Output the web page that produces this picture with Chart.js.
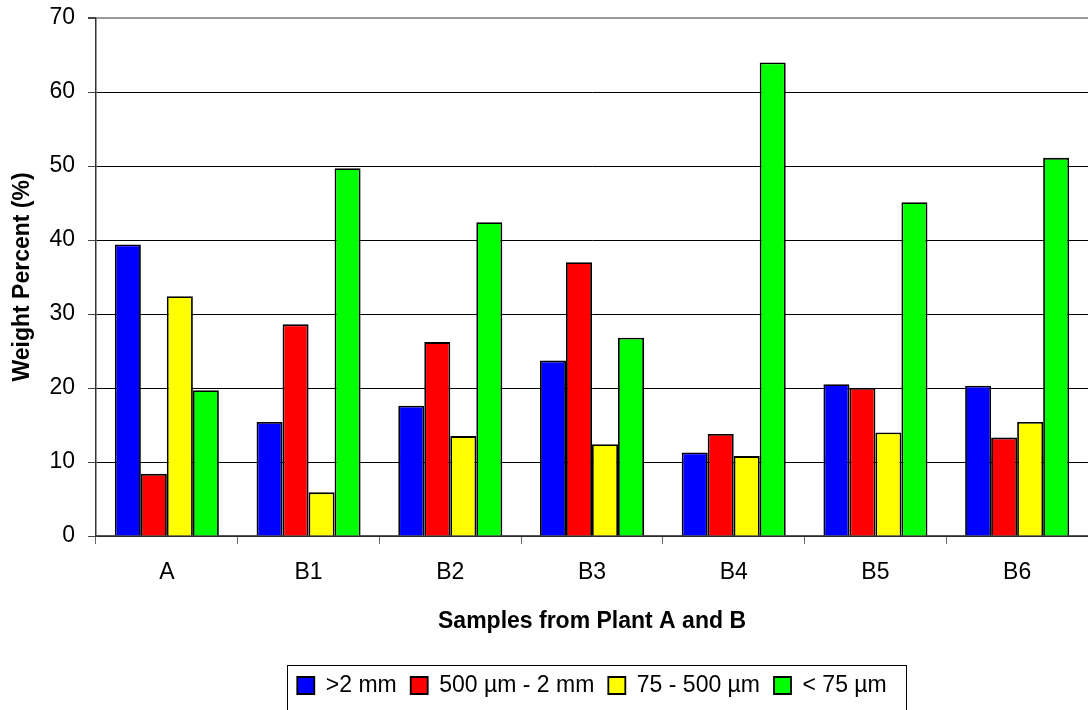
<!DOCTYPE html>
<html>
<head>
<meta charset="utf-8">
<script src="https://cdn.jsdelivr.net/npm/chart.js@4"></script>
<style>
  html, body { margin: 0; padding: 0; background: #fff; }
  #wrap { width: 1088px; height: 710px; }
</style>
</head>
<body>
<div id="wrap"><canvas id="chart" width="1088" height="710"></canvas></div>
<script>
const samples = ["A", "B1", "B2", "B3", "B4", "B5", "B6"];
const over2mm = [39.4, 15.4, 17.6, 23.7, 11.3, 20.5, 20.3];
const from500umTo2mm = [8.4, 28.6, 26.2, 37.0, 13.8, 20.0, 13.3];
const from75To500um = [32.4, 5.9, 13.5, 12.4, 10.8, 14.0, 15.4];
const under75um = [19.7, 49.7, 42.4, 26.8, 64.0, 45.1, 51.1];
const seriesNames = [">2 mm", "500 µm - 2 mm", "75 - 500 µm", "< 75 µm"];
const yTicks = [0, 10, 20, 30, 40, 50, 60, 70];

const FONT = 'Arial, "Liberation Sans", sans-serif';

function series(label, data, color) {
  return {
    label,
    data,
    backgroundColor: color,
    borderColor: "#000",
    borderWidth: 1.8,
    categoryPercentage: 0.734,
    barPercentage: 1.0
  };
}

// box round the legend, like the spreadsheet one
const legendFrame = {
  id: "legendFrame",
  afterDraw(chart) {
    const boxes = chart.legend && chart.legend.legendHitBoxes;
    if (!boxes || !boxes.length) return;
    let left = Infinity, right = -Infinity, mid = 0;
    boxes.forEach(b => {
      left = Math.min(left, b.left);
      right = Math.max(right, b.left + b.width);
      mid = b.top + b.height / 2;
    });
    const ctx = chart.ctx;
    ctx.save();
    ctx.strokeStyle = "#000";
    ctx.lineWidth = 1;
    ctx.strokeRect(Math.round(left - 10) + 0.5, Math.round(mid - 21) + 0.5,
      Math.round(right - left + 30), 60);
    ctx.restore();
  }
};

Chart.defaults.font.family = FONT;
Chart.defaults.color = "#000";

new Chart(document.getElementById("chart"), {
  type: "bar",
  data: {
    labels: samples,
    datasets: [
      series(seriesNames[0], over2mm, "#0000ff"),
      series(seriesNames[1], from500umTo2mm, "#ff0000"),
      series(seriesNames[2], from75To500um, "#ffff00"),
      series(seriesNames[3], under75um, "#00ff00")
    ]
  },
  options: {
    responsive: false,
    animation: false,
    layout: { padding: { top: 18, right: 0, bottom: 3, left: 0 } },
    plugins: {
      tooltip: { enabled: false },
      legend: {
        position: "bottom",
        fullSize: false,
        labels: {
          boxWidth: 17,
          boxHeight: 17,
          padding: 14,
          color: "#000",
          font: { size: 23, family: FONT }
        }
      }
    },
    scales: {
      x: {
        offset: true,
        grid: {
          display: true,
          offset: true,
          drawOnChartArea: false,
          tickLength: 8,
          color: "#666"
        },
        border: { color: "#555", width: 1.5 },
        ticks: { padding: 15, font: { size: 23 }, color: "#000" },
        title: {
          display: true,
          text: "Samples from Plant A and B",
          font: { size: 23, weight: "bold" },
          padding: { top: 0, bottom: 25 }
        },
        afterFit(scale) { scale.height = 124; }
      },
      y: {
        min: 0,
        max: 70,
        afterBuildTicks(scale) { scale.ticks = yTicks.map(v => ({ value: v })); },
        grid: {
          color: ctx => (ctx.tick && ctx.tick.value === 70 ? "#999" : "#000"),
          lineWidth: ctx => (ctx.tick && ctx.tick.value === 70 ? 2 : 1),
          tickLength: 8,
          tickColor: "#444"
        },
        border: { color: "#333", width: 1.5 },
        ticks: { padding: 13, font: { size: 23 }, color: "#000" },
        title: {
          display: true,
          text: "Weight Percent (%)",
          font: { size: 23, weight: "bold" },
          padding: { top: 9, bottom: 0 }
        },
        afterFit(scale) {
          scale.width = 96;
          scale.paddingTop = 0;
          scale.paddingBottom = 0;
        }
      }
    }
  },
  plugins: [legendFrame]
});
</script>
</body>
</html>
